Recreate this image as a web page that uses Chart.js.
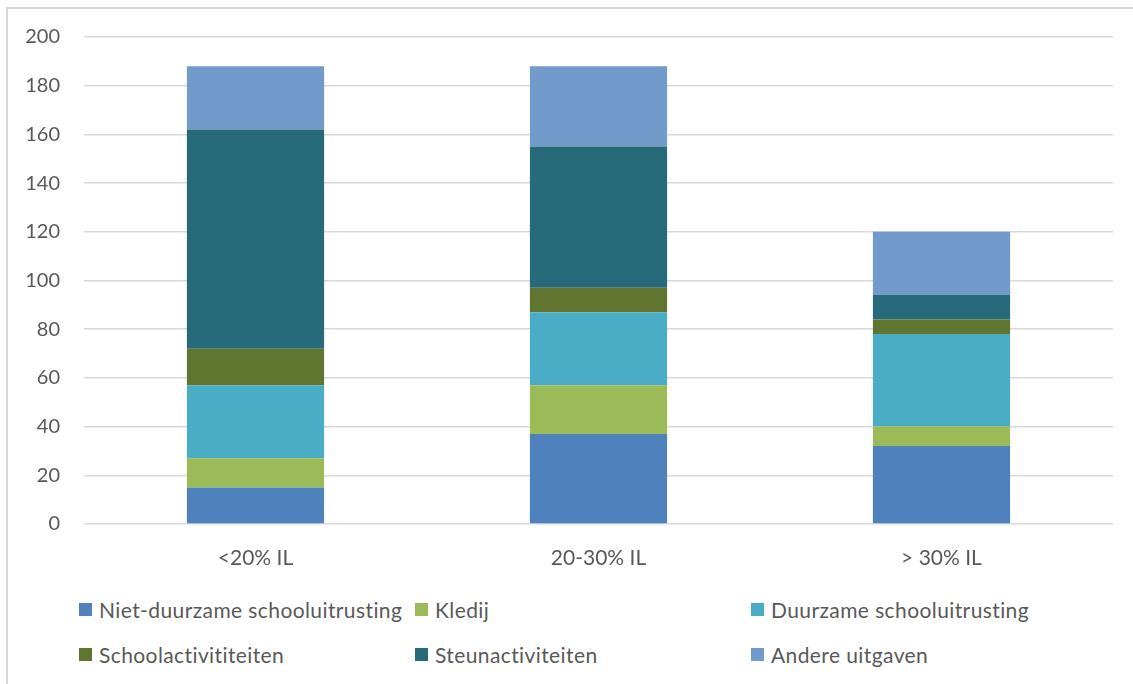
<!DOCTYPE html>
<html>
<head>
<meta charset="utf-8">
<script src="https://cdn.jsdelivr.net/npm/chart.js@4/dist/chart.umd.min.js"></script>
<style>
    html, body { margin: 0; padding: 0; background: #fff; overflow: hidden; }
    body { width: 1133px; height: 684px; position: relative; font-family: Lato, sans-serif; }
    .frame { position: absolute; left: 6px; top: 7px; width: 1200px; height: 800px;
             border-left: 2px solid #d9d9d9; border-top: 2px solid #d9d9d9; }
    .chart-box { position: absolute; left: 0; top: 0; width: 1133px; height: 590px; }
    .legend { position: absolute; left: 79px; top: 596px; display: grid;
              grid-template-columns: 336px 336px 336px; row-gap: 19px; }
    .legend-item { display: flex; align-items: center; height: 26px;
                   font-size: 21px; letter-spacing: 0.4px; color: #595959; white-space: nowrap; }
    .legend-box { width: 13px; height: 13px; margin-right: 7px; flex: none; }
</style>
</head>
<body>
<div class="frame"></div>
<div class="chart-box"><canvas id="myBarChart"></canvas></div>
<div class="legend" id="legend"></div>

<script>
// Categories and series
const categories = ['<20% IL', '20-30% IL', '> 30% IL'];
const seriesNames = [
    'Niet-duurzame schooluitrusting',
    'Kledij',
    'Duurzame schooluitrusting',
    'Schoolactivititeiten',
    'Steunactiviteiten',
    'Andere uitgaven'
];
const nietDuurzaam = [15, 37, 32];
const kledij = [12, 20, 8];
const duurzaam = [30, 30, 38];
const schoolactiviteiten = [15, 10, 6];
const steunactiviteiten = [90, 58, 10];
const andereUitgaven = [26, 33, 26];
const yTicks = [0, 20, 40, 60, 80, 100, 120, 140, 160, 180, 200];

const seriesValues = [nietDuurzaam, kledij, duurzaam, schoolactiviteiten, steunactiviteiten, andereUitgaven];
const seriesColors = ['#4f81bd', '#9bbb59', '#4bacc6', '#607530', '#276a7a', '#729aca'];

document.addEventListener("DOMContentLoaded", function () {
    const ctx = document.getElementById('myBarChart');
    const textColor = '#595959';
    const fontSpec = { family: 'Lato, sans-serif', size: 20 };

    new Chart(ctx, {
        type: 'bar',
        data: {
            labels: categories,
            datasets: seriesNames.map(function (name, i) {
                return {
                    label: name,
                    data: seriesValues[i],
                    backgroundColor: seriesColors[i],
                    borderWidth: 0,
                    barPercentage: 0.4,
                    categoryPercentage: 1.0
                };
            })
        },
        options: {
            responsive: true,
            maintainAspectRatio: false,
            animation: false,
            layout: { padding: { top: 37, right: 20, left: 0, bottom: 0 } },
            plugins: {
                legend: { display: false },
                tooltip: { enabled: false }
            },
            scales: {
                x: {
                    stacked: true,
                    grid: { display: false, drawTicks: false },
                    border: { display: false },
                    ticks: { color: textColor, font: { family: 'Lato, sans-serif', size: 21 }, padding: 22 },
                    afterFit: function (scale) { scale.height = 66; }
                },
                y: {
                    stacked: true,
                    min: 0,
                    max: 200,
                    afterBuildTicks: function (scale) {
                        scale.ticks = yTicks.map(function (v) { return { value: v }; });
                    },
                    grid: { color: '#d9d9d9', lineWidth: 1.5, drawTicks: false },
                    border: { display: false },
                    ticks: { color: textColor, font: fontSpec, padding: 24 },
                    afterFit: function (scale) { scale.width = 84; }
                }
            }
        }
    });

    // Legend laid out in three columns like the original
    const legend = document.getElementById('legend');
    seriesNames.forEach(function (name, i) {
        const item = document.createElement('div');
        item.className = 'legend-item';
        const box = document.createElement('span');
        box.className = 'legend-box';
        box.style.background = seriesColors[i];
        item.appendChild(box);
        item.appendChild(document.createTextNode(name));
        legend.appendChild(item);
    });
});
</script>
</body>
</html>
